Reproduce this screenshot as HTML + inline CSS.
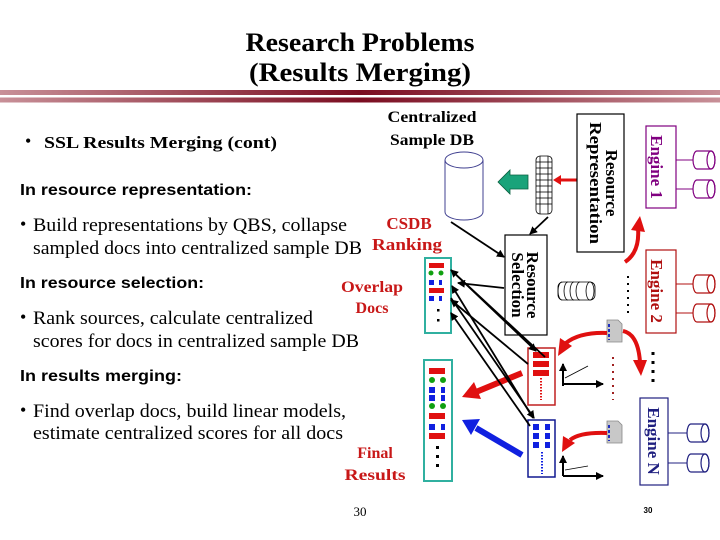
<!DOCTYPE html>
<html><head><meta charset="utf-8"><style>
html,body{margin:0;padding:0;background:#fff;}
svg{display:block;}
.t{font-family:"Liberation Serif",serif;}
.s{font-family:"Liberation Sans",sans-serif;font-weight:bold;}
</style></head><body>
<svg width="720" height="540" viewBox="0 0 720 540" xmlns="http://www.w3.org/2000/svg">
<defs>
<linearGradient id="bar" x1="0" x2="1" y1="0" y2="0">
<stop offset="0" stop-color="#c89098"/><stop offset="0.5" stop-color="#7a0c20"/><stop offset="1" stop-color="#c89098"/>
</linearGradient>
<marker id="ah" markerWidth="8" markerHeight="8" refX="7" refY="4" orient="auto" markerUnits="userSpaceOnUse"><path d="M0,0 L8,4 L0,8 z" fill="#000"/></marker>
<marker id="rh" markerWidth="16" markerHeight="16" refX="10" refY="8" orient="auto" markerUnits="userSpaceOnUse"><path d="M0,0 L14,8 L0,16 z" fill="#e01010"/></marker>
<g id="cyl"><path d="M4,0 L18,0 A4,9 0 0 1 18,18 L4,18 A4,9 0 0 1 4,0 z" fill="#fff" stroke-width="1.2"/><ellipse cx="18" cy="9" rx="4" ry="9" fill="none" stroke-width="1.2"/></g>
</defs>

<!-- title -->
<text class="t" x="360" y="51" font-size="26" font-weight="bold" text-anchor="middle" textLength="229" lengthAdjust="spacingAndGlyphs">Research Problems</text>
<text class="t" x="360" y="81" font-size="26" font-weight="bold" text-anchor="middle" textLength="222" lengthAdjust="spacingAndGlyphs">(Results Merging)</text>
<rect x="0" y="90" width="720" height="5" fill="url(#bar)"/>
<rect x="0" y="97.5" width="720" height="5" fill="url(#bar)"/>

<!-- left text -->
<text class="t" x="25" y="147" font-size="18">•</text>
<text class="t" x="44" y="148" font-size="17" font-weight="bold" textLength="233" lengthAdjust="spacingAndGlyphs">SSL Results Merging (cont)</text>
<text class="t" x="432" y="122" font-size="16" font-weight="bold" text-anchor="middle" textLength="89" lengthAdjust="spacingAndGlyphs">Centralized</text>
<text class="t" x="432" y="145" font-size="16" font-weight="bold" text-anchor="middle" textLength="84" lengthAdjust="spacingAndGlyphs">Sample DB</text>

<text class="s" x="20" y="195" font-size="16" textLength="232" lengthAdjust="spacingAndGlyphs">In resource representation:</text>
<text class="t" x="20" y="230" font-size="18">•</text>
<text class="t" x="33" y="231" font-size="19" textLength="314" lengthAdjust="spacingAndGlyphs">Build representations by QBS, collapse</text>
<text class="t" x="33" y="254" font-size="19" textLength="329" lengthAdjust="spacingAndGlyphs">sampled docs into centralized sample DB</text>
<text class="t" x="409" y="229" font-size="17" font-weight="bold" fill="#c81818" text-anchor="middle">CSDB</text>
<text class="t" x="407" y="250" font-size="17" font-weight="bold" fill="#c81818" text-anchor="middle" textLength="70" lengthAdjust="spacingAndGlyphs">Ranking</text>

<text class="s" x="20" y="288" font-size="16" textLength="184" lengthAdjust="spacingAndGlyphs">In resource selection:</text>
<text class="t" x="372" y="292" font-size="16" font-weight="bold" fill="#c81818" text-anchor="middle" textLength="62" lengthAdjust="spacingAndGlyphs">Overlap</text>
<text class="t" x="372" y="313" font-size="16" font-weight="bold" fill="#c81818" text-anchor="middle">Docs</text>
<text class="t" x="20" y="323" font-size="18">•</text>
<text class="t" x="33" y="324" font-size="19" textLength="280" lengthAdjust="spacingAndGlyphs">Rank sources, calculate centralized</text>
<text class="t" x="33" y="347" font-size="19" textLength="326" lengthAdjust="spacingAndGlyphs">scores for docs in centralized sample DB</text>

<text class="s" x="20" y="381" font-size="16" textLength="162" lengthAdjust="spacingAndGlyphs">In results merging:</text>
<text class="t" x="20" y="416" font-size="18">•</text>
<text class="t" x="33" y="417" font-size="19" textLength="313" lengthAdjust="spacingAndGlyphs">Find overlap docs, build linear models,</text>
<text class="t" x="33" y="439" font-size="19" textLength="310" lengthAdjust="spacingAndGlyphs">estimate centralized scores for all docs</text>
<text class="t" x="375" y="458" font-size="16" font-weight="bold" fill="#c81818" text-anchor="middle">Final</text>
<text class="t" x="375" y="480" font-size="16" font-weight="bold" fill="#c81818" text-anchor="middle" textLength="61" lengthAdjust="spacingAndGlyphs">Results</text>
<text class="t" x="360" y="516" font-size="13" text-anchor="middle">30</text>
<text class="s" x="648" y="513" font-size="8" text-anchor="middle" font-weight="normal">30</text>

<!-- centralized DB cylinder -->
<path d="M445,160 L445,212 A19,8 0 0 0 483,212 L483,160" fill="#fff" stroke="#404090" stroke-width="1"/>
<ellipse cx="464" cy="160" rx="19" ry="8" fill="#fff" stroke="#404090" stroke-width="1"/>

<!-- green arrow -->
<path d="M528,175 L510,175 L510,170 L498,182 L510,194 L510,189 L528,189 z" fill="#1aa37a" stroke="#0a6040" stroke-width="0.8"/>

<!-- doc stack vertical -->
<g stroke="#000" stroke-width="0.8" fill="#fff">
<rect x="536" y="156" width="16" height="58" rx="4"/>
<line x1="536" y1="162" x2="552" y2="162"/><line x1="536" y1="168" x2="552" y2="168"/><line x1="536" y1="174" x2="552" y2="174"/><line x1="536" y1="180" x2="552" y2="180"/><line x1="536" y1="186" x2="552" y2="186"/><line x1="536" y1="192" x2="552" y2="192"/><line x1="536" y1="198" x2="552" y2="198"/><line x1="536" y1="204" x2="552" y2="204"/>
<line x1="540" y1="156" x2="540" y2="214"/><line x1="548" y1="156" x2="548" y2="214"/>
</g>
<!-- red arrow rep -> stack -->
<line x1="577" y1="180" x2="556" y2="180" stroke="#e01010" stroke-width="3"/>
<path d="M553,180 L561,175 L561,185 z" fill="#e01010"/>

<!-- Resource Representation box -->
<rect x="577" y="114" width="47" height="138" fill="#fff" stroke="#000" stroke-width="1.2"/>
<text class="t" transform="translate(606,183) rotate(90)" font-size="17" font-weight="bold" text-anchor="middle">Resource</text>
<text class="t" transform="translate(590,183) rotate(90)" font-size="17" font-weight="bold" text-anchor="middle" textLength="122" lengthAdjust="spacingAndGlyphs">Representation</text>

<!-- Engine 1 -->
<rect x="646" y="126" width="30" height="82" fill="#fff" stroke="#800080" stroke-width="1.2"/>
<text class="t" transform="translate(651,167) rotate(90)" font-size="17" font-weight="bold" fill="#800080" text-anchor="middle">Engine 1</text>
<g stroke="#800080"><line x1="676" y1="160" x2="693" y2="160"/><line x1="676" y1="189" x2="693" y2="189"/>
<use href="#cyl" x="693" y="151"/><use href="#cyl" x="693" y="180"/></g>

<!-- Engine 2 -->
<rect x="646" y="250" width="30" height="83" fill="#fff" stroke="#b01010" stroke-width="1.2"/>
<text class="t" transform="translate(651,291) rotate(90)" font-size="17" font-weight="bold" fill="#b01010" text-anchor="middle">Engine 2</text>
<g stroke="#b01010"><line x1="676" y1="284" x2="693" y2="284"/><line x1="676" y1="313" x2="693" y2="313"/>
<use href="#cyl" x="693" y="275"/><use href="#cyl" x="693" y="304"/></g>

<!-- Engine N -->
<rect x="640" y="398" width="28" height="87" fill="#fff" stroke="#202080" stroke-width="1.2"/>
<text class="t" transform="translate(648,441) rotate(90)" font-size="17" font-weight="bold" fill="#202080" text-anchor="middle">Engine N</text>
<g stroke="#202080"><line x1="668" y1="433" x2="687" y2="433"/><line x1="668" y1="463" x2="687" y2="463"/>
<use href="#cyl" x="687" y="424"/><use href="#cyl" x="687" y="454"/></g>

<!-- red curve up to engine1 -->
<path d="M625,262 Q640,252 638,228" fill="none" stroke="#e01010" stroke-width="4"/>
<path d="M631,230 L640,216 L645,232 z" fill="#e01010"/>

<!-- dots -->
<line x1="628" y1="276" x2="628" y2="318" stroke="#000" stroke-width="2" stroke-dasharray="2,5"/>
<line x1="653" y1="352" x2="653" y2="382" stroke="#000" stroke-width="3" stroke-dasharray="3,6"/>
<line x1="613" y1="357" x2="613" y2="400" stroke="#a02020" stroke-width="2" stroke-dasharray="2,5"/>

<!-- Resource Selection box -->
<rect x="505" y="235" width="42" height="100" fill="#fff" stroke="#000" stroke-width="1.2"/>
<text class="t" transform="translate(527,285) rotate(90)" font-size="17" font-weight="bold" text-anchor="middle">Resource</text>
<text class="t" transform="translate(512,285) rotate(90)" font-size="17" font-weight="bold" text-anchor="middle">Selection</text>

<!-- horizontal small stack -->
<g stroke="#000" stroke-width="0.8" fill="#fff">
<rect x="558" y="282" width="37" height="18" rx="5"/>
<path d="M562,282 A4,9 0 0 0 562,300 M568,282 A4,9 0 0 0 568,300 M574,282 A4,9 0 0 0 574,300 M580,282 A4,9 0 0 0 580,300" fill="none"/>
<ellipse cx="590" cy="291" rx="4" ry="9" fill="none"/>
</g>

<!-- doc icons -->
<g>
<path d="M607,320 L618,320 L622,324 L622,342 L607,342 z" fill="#c8c8c8" stroke="#888" stroke-width="0.8"/>
<line x1="609" y1="324" x2="609" y2="340" stroke="#2030c0" stroke-width="2" stroke-dasharray="3,2"/>
<path d="M607,421 L618,421 L622,425 L622,443 L607,443 z" fill="#c8c8c8" stroke="#888" stroke-width="0.8"/>
<line x1="609" y1="425" x2="609" y2="441" stroke="#2030c0" stroke-width="2" stroke-dasharray="3,2"/>
</g>

<!-- red curved arrows from docs -->
<path d="M607,333 Q580,332 566,343" fill="none" stroke="#e01010" stroke-width="4"/>
<path d="M558,356 L560,338 L572,346 z" fill="#e01010"/>
<path d="M623,331 Q638,334 640,362" fill="none" stroke="#e01010" stroke-width="4"/>
<path d="M633,360 L641,376 L647,360 z" fill="#e01010"/>
<path d="M607,433 Q580,432 570,440" fill="none" stroke="#e01010" stroke-width="4"/>
<path d="M562,452 L563,436 L575,443 z" fill="#e01010"/>

<!-- red box -->
<rect x="528" y="348" width="27" height="57" fill="#fff" stroke="#c02020" stroke-width="1.5"/>
<rect x="533" y="352" width="16" height="6" fill="#e01010"/><rect x="533" y="361" width="16" height="6" fill="#e01010"/><rect x="533" y="370" width="16" height="6" fill="#e01010"/>
<line x1="541" y1="378" x2="541" y2="400" stroke="#e01010" stroke-width="2" stroke-dasharray="1.5,1.5"/>
<!-- blue box -->
<rect x="528" y="420" width="27" height="57" fill="#fff" stroke="#101890" stroke-width="1.5"/>
<g fill="#1020e0"><rect x="533" y="424" width="6" height="6"/><rect x="545" y="424" width="5" height="6"/><rect x="533" y="433" width="6" height="6"/><rect x="545" y="433" width="5" height="6"/><rect x="533" y="442" width="6" height="6"/><rect x="545" y="442" width="5" height="6"/></g>
<line x1="542" y1="452" x2="542" y2="474" stroke="#1020e0" stroke-width="2" stroke-dasharray="1.5,1.5"/>

<!-- charts -->
<g stroke="#000" stroke-width="2" fill="none">
<line x1="563" y1="386" x2="563" y2="364" marker-end="url(#ah)"/><line x1="563" y1="384" x2="603" y2="384" marker-end="url(#ah)"/>
<line x1="563" y1="476" x2="563" y2="456" marker-end="url(#ah)"/><line x1="563" y1="476" x2="603" y2="476" marker-end="url(#ah)"/>
</g>
<line x1="565" y1="378" x2="588" y2="366" stroke="#000" stroke-width="0.8"/>
<line x1="565" y1="470" x2="588" y2="466" stroke="#000" stroke-width="0.8"/>

<!-- list 1 -->
<rect x="425" y="258" width="26" height="75" fill="#fff" stroke="#30b0a0" stroke-width="2"/>
<rect x="429" y="263" width="15" height="5" fill="#e01010"/>
<circle cx="431" cy="273" r="2.5" fill="#10a010"/><circle cx="441" cy="273" r="2.5" fill="#10a010"/>
<rect x="429" y="280" width="5" height="5" fill="#1020e0"/><rect x="439" y="280" width="3" height="5" fill="#1020e0"/>
<rect x="429" y="288" width="15" height="5" fill="#e01010"/>
<rect x="429" y="296" width="5" height="5" fill="#1020e0"/><rect x="439" y="296" width="3" height="5" fill="#1020e0"/>
<rect x="437" y="309" width="2.5" height="2.5" fill="#000"/><rect x="437" y="319" width="2.5" height="2.5" fill="#000"/>

<!-- final list -->
<rect x="424" y="360" width="28" height="121" fill="#fff" stroke="#30b0a0" stroke-width="2"/>
<rect x="429" y="368" width="16" height="6" fill="#e01010"/>
<circle cx="432" cy="380" r="3" fill="#10a010"/><circle cx="443" cy="380" r="3" fill="#10a010"/>
<rect x="429" y="387" width="6" height="6" fill="#1020e0"/><rect x="441" y="387" width="4" height="6" fill="#1020e0"/>
<rect x="429" y="395" width="6" height="6" fill="#1020e0"/><rect x="441" y="395" width="4" height="6" fill="#1020e0"/>
<circle cx="432" cy="406" r="3" fill="#10a010"/><circle cx="443" cy="406" r="3" fill="#10a010"/>
<rect x="429" y="413" width="16" height="6" fill="#e01010"/>
<rect x="429" y="424" width="6" height="6" fill="#1020e0"/><rect x="441" y="424" width="4" height="6" fill="#1020e0"/>
<rect x="429" y="433" width="16" height="6" fill="#e01010"/>
<rect x="436" y="446" width="3" height="3" fill="#000"/><rect x="436" y="455" width="3" height="3" fill="#000"/><rect x="436" y="464" width="3" height="3" fill="#000"/>

<!-- big arrows -->
<line x1="522" y1="373" x2="476" y2="392" stroke="#e01010" stroke-width="6"/>
<path d="M462,397 L474,382 L481,399 z" fill="#e01010"/>
<line x1="522" y1="455" x2="476" y2="428" stroke="#1020e0" stroke-width="6"/>
<path d="M462,420 L480,419 L471,435 z" fill="#1020e0"/>

<!-- black arrows -->
<g stroke="#000" stroke-width="1.8" fill="none" marker-end="url(#ah)">
<line x1="451" y1="222" x2="504" y2="257"/>
<line x1="548" y1="217" x2="530" y2="234"/>
<line x1="504" y1="288" x2="458" y2="283"/>
<line x1="545" y1="357" x2="451" y2="270"/>
<line x1="528" y1="364" x2="451" y2="300"/>
<line x1="533" y1="418" x2="452" y2="286"/>
<line x1="530" y1="426" x2="451" y2="313"/>
</g>
<g stroke="#000" stroke-width="1.8" fill="none" marker-end="url(#ah)">
<line x1="451" y1="270" x2="536" y2="351"/>
<line x1="451" y1="298" x2="534" y2="418"/>
</g>
</svg>
</body></html>
